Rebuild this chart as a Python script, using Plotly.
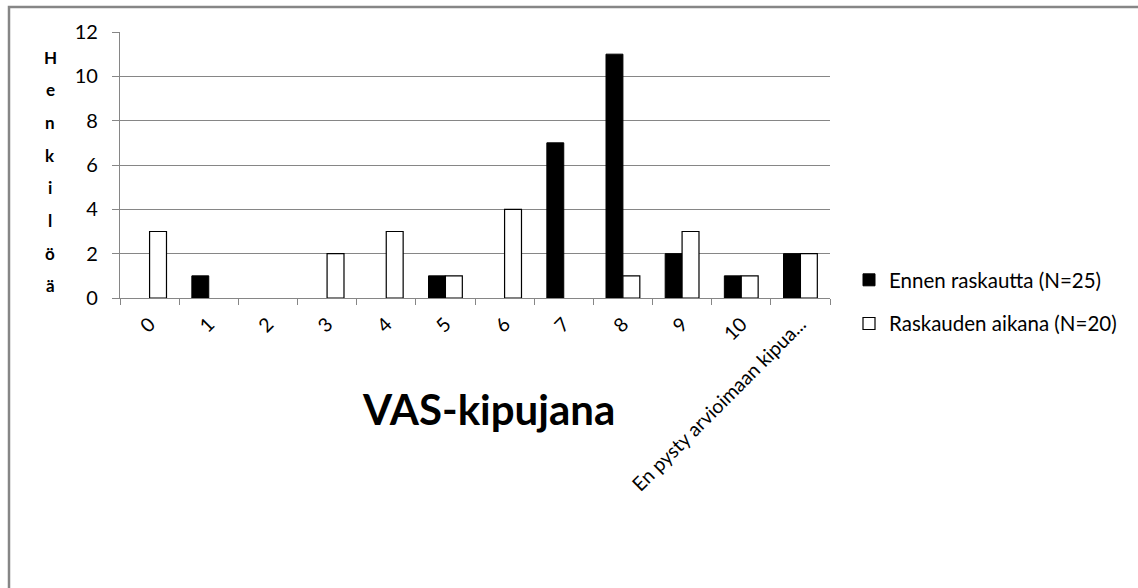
import plotly.graph_objects as go

# Pain-scale categories (VAS 0-10 plus "cannot assess")
categories = ["0", "1", "2", "3", "4", "5", "6", "7", "8", "9", "10",
              "En pysty arvioimaan kipua..."]
ennen_raskautta = [0, 1, 0, 0, 0, 1, 0, 7, 11, 2, 1, 2]
raskauden_aikana = [3, 0, 0, 2, 3, 1, 4, 0, 1, 3, 1, 2]
y_ticks = [0, 2, 4, 6, 8, 10, 12]
series_names = ["Ennen raskautta (N=25)", "Raskauden aikana (N=20)"]
y_title = "Henkilöä"
x_title = "VAS-kipujana"

FONT = "Lato, Carlito, Calibri, sans-serif"
W, H = 1138, 588
L, R, T, B = 120, 308, 32, 290
PW, PH = W - L - R, H - T - B


def px_x(px):
    return (px - L) / PW


def px_y(py):
    return (H - B - py) / PH


def hide_zero(vals):
    return [v if v else None for v in vals]


fig = go.Figure()
fig.add_trace(go.Bar(
    x=categories, y=hide_zero(ennen_raskautta), name=series_names[0],
    legendgroup="g1",
    marker=dict(color="black", line=dict(color="black", width=1)),
))
fig.add_trace(go.Bar(
    x=categories, y=hide_zero(raskauden_aikana), name=series_names[1],
    legendgroup="g2",
    marker=dict(color="white", line=dict(color="black", width=1.2)),
))

annotations = []
# vertical, letter-by-letter y-axis title
for i, ch in enumerate(y_title):
    annotations.append(dict(
        text=f"<b>{ch}</b>", x=px_x(50), y=px_y(57 + i * 32.7),
        xref="paper", yref="paper", showarrow=False,
        xanchor="center", yanchor="middle",
        font=dict(family=FONT, size=17, color="black"),
    ))
annotations.append(dict(
    text=f"<b>{x_title}</b>", x=px_x(488), y=px_y(409),
    xref="paper", yref="paper", showarrow=False,
    xanchor="center", yanchor="middle",
    font=dict(family=FONT, size=42, color="black"),
))

fig.update_layout(
    width=W, height=H,
    margin=dict(l=L, r=R, t=T, b=B),
    paper_bgcolor="white", plot_bgcolor="white",
    barmode="group", bargap=0.4286, bargroupgap=0,
    font=dict(family=FONT, color="black"),
    showlegend=True,
    legend=dict(
        x=px_x(849), y=px_y(260), xanchor="left", yanchor="top",
        font=dict(family=FONT, size=20.5, color="black"),
        itemwidth=30, tracegroupgap=14, bgcolor="rgba(0,0,0,0)",
    ),
    annotations=annotations,
    shapes=[dict(
        type="rect", xref="paper", yref="paper",
        x0=px_x(9), y0=px_y(7), x1=px_x(1160), y1=px_y(620),
        line=dict(color="#868686", width=2.5), fillcolor="rgba(0,0,0,0)",
        layer="below",
    )],
)

fig.update_xaxes(
    type="category", tickangle=-45, tickson="boundaries",
    ticks="outside", ticklen=6, tickcolor="#868686", tickwidth=1,
    showline=True, linecolor="#868686", linewidth=1.2,
    showgrid=False, tickfont=dict(family=FONT, size=19.5, color="black"),
    ticklabelstandoff=6,
)
fig.update_yaxes(
    range=[0, 12], tickvals=y_ticks,
    ticks="outside", ticklen=7, tickcolor="#868686", tickwidth=1,
    showline=True, linecolor="#868686", linewidth=1.2,
    showgrid=True, gridcolor="#868686", gridwidth=1, zeroline=False,
    tickfont=dict(family=FONT, size=20, color="black"),
    ticklabelstandoff=10,
)

fig.write_html("out.html")
